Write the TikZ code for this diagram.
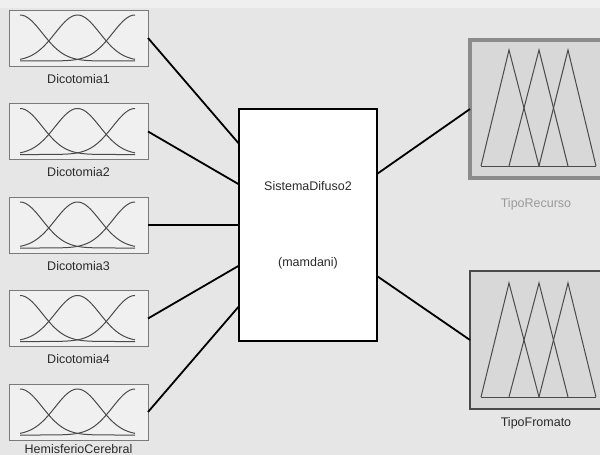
\documentclass[tikz,border=0pt]{standalone}
\usepackage{fontspec}
\setmainfont{Liberation Sans}
\usetikzlibrary{calc,positioning}
\definecolor{fondo}{HTML}{E6E6E6}
\definecolor{fondoclaro}{HTML}{EFEFEF}
\definecolor{cajaent}{HTML}{F0F0F0}
\definecolor{bordeent}{HTML}{7A7A7A}
\definecolor{curva}{HTML}{4A4A4A}
\definecolor{cajasal}{HTML}{D8D8D8}
\definecolor{bordesel}{HTML}{8C8C8C}
\definecolor{texto}{HTML}{2A2A2A}
\definecolor{textogris}{HTML}{9A9A9A}

\begin{document}
\begin{tikzpicture}[x=1pt,y=-1pt,
    entrada/.style={draw=bordeent,fill=cajaent,line width=1pt,minimum width=139pt,
        minimum height=56pt,inner sep=0pt,outer sep=0pt,anchor=north west},
    salida/.style={draw=curva,fill=cajasal,line width=1.2pt,minimum width=132pt,
        minimum height=138pt,inner sep=0pt,outer sep=0pt,anchor=north west},
    sistema/.style={draw=black,fill=white,line width=2pt,minimum width=138pt,
        minimum height=232pt,inner sep=0pt,outer sep=0pt,anchor=north west},
    etiq/.style={text=texto,font=\fontsize{12.5}{14}\selectfont,inner sep=0pt},
    mf/.style={draw=curva,line width=1pt},
    conector/.style={draw=black,line width=1.8pt}]
  \useasboundingbox (0,0) rectangle (600,455);
  % Fondo
  \fill[fondo] (0,0) rectangle (600,455);
  \fill[fondoclaro] (0,0) rectangle (600,8);

  % Entradas
  \foreach \lab/\dy [count=\i] in {Dicotomia1/13,Dicotomia2/13,Dicotomia3/13,Dicotomia4/13,HemisferioCerebral/9}{
    \node[entrada] (in\i) at (9,{10+93.5*(\i-1)}) {};
    \node[etiq] (lab\i) at ($(in\i.south)+(0,\dy)$) {\lab};
    \begin{scope}[shift={(in\i.north west)}]
      \draw[mf] plot[domain=11:126,samples=50,smooth] (\x,{51-46*exp(-((\x-11)/31.56)^2)});
      \draw[mf] plot[domain=11:126,samples=50,smooth] (\x,{51-46*exp(-((\x-68.5)/31.56)^2)});
      \draw[mf] plot[domain=11:126,samples=50,smooth] (\x,{51-46*exp(-((\x-126)/31.56)^2)});
    \end{scope}
  }

  % Sistema
  \node[sistema] (sys) at (239,109) {};
  \node[etiq] (sysname) at ($(sys.center)+(0,-39)$) {SistemaDifuso2};
  \node[etiq] (systype) at ($(sys.center)+(0,38)$) {(mamdani)};

  % Salidas
  \node[salida,draw=bordesel,line width=4pt] (out1) at (470,40) {};
  \node[etiq,text=textogris] (olab1) at ($(out1.south)+(0,26)$) {TipoRecurso};
  \node[salida] (out2) at (470,271) {};
  \node[etiq] (olab2) at ($(out2.south)+(0,14)$) {TipoFromato};
  \foreach \o/\b/\p in {out1/126/10,out2/126/12}{
    \begin{scope}[shift={(\o.north west)}]
      \draw[mf] (11,\b) -- (39,\p) -- (69,\b);
      \draw[mf] (39,\b) -- (69,\p) -- (98,\b);
      \draw[mf] (69,\b) -- (98,\p) -- (126,\b);
      \draw[mf] (11,\b) -- (126,\b);
    \end{scope}
  }

  % Flèches
  \foreach \i in {1,...,5}{
    \draw[conector] (in\i.east) -- ($(sys.north west)!{0.15+0.175*(\i-1)}!(sys.south west)$);
  }
  \draw[conector] ($(sys.north east)!0.28!(sys.south east)$) -- (out1.west);
  \draw[conector] ($(sys.north east)!0.72!(sys.south east)$) -- (out2.west);
\end{tikzpicture}
\end{document}
